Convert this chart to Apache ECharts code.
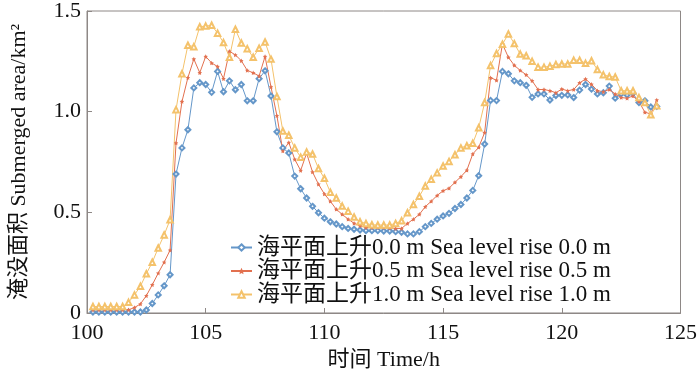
<!DOCTYPE html>
<html>
<head>
<meta charset="utf-8">
<script src="https://cdn.jsdelivr.net/npm/echarts@6/dist/echarts.min.js"></script>
<style>
  html, body { margin: 0; padding: 0; background: #fff; }
  #main { width: 700px; height: 376px; }
</style>
</head>
<body>
<div id="main"></div>
<script>
// 时间 (h), 每 15 分钟一个点
var times = [
  100.25, 100.5, 100.75, 101, 101.25, 101.5, 101.75, 102, 102.25, 102.5, 102.75, 103,
  103.25, 103.5, 103.75, 104, 104.25, 104.5, 104.75, 105, 105.25, 105.5, 105.75, 106,
  106.25, 106.5, 106.75, 107, 107.25, 107.5, 107.75, 108, 108.25, 108.5, 108.75, 109,
  109.25, 109.5, 109.75, 110, 110.25, 110.5, 110.75, 111, 111.25, 111.5, 111.75, 112,
  112.25, 112.5, 112.75, 113, 113.25, 113.5, 113.75, 114, 114.25, 114.5, 114.75, 115,
  115.25, 115.5, 115.75, 116, 116.25, 116.5, 116.75, 117, 117.25, 117.5, 117.75, 118,
  118.25, 118.5, 118.75, 119, 119.25, 119.5, 119.75, 120, 120.25, 120.5, 120.75, 121,
  121.25, 121.5, 121.75, 122, 122.25, 122.5, 122.75, 123, 123.25, 123.5, 123.75, 124
]

// 海平面上升 0.0 m
var rise00 = [
  0.005, 0.005, 0.005, 0.005, 0.005, 0.005, 0.005, 0.005, 0.005, 0.015, 0.047, 0.09,
  0.135, 0.19, 0.69, 0.82, 0.91, 1.118, 1.144, 1.135, 1.096, 1.2, 1.099, 1.153,
  1.109, 1.135, 1.054, 1.054, 1.164, 1.203, 1.078, 0.9, 0.82, 0.795, 0.68, 0.617,
  0.571, 0.53, 0.498, 0.471, 0.453, 0.442, 0.429, 0.42, 0.416, 0.412, 0.409, 0.409,
  0.409, 0.407, 0.407, 0.404, 0.401, 0.393, 0.393, 0.404, 0.429, 0.445, 0.466, 0.482,
  0.495, 0.519, 0.539, 0.571, 0.609, 0.682, 0.839, 1.056, 1.055, 1.2, 1.188, 1.153,
  1.144, 1.131, 1.071, 1.088, 1.088, 1.058, 1.08, 1.081, 1.083, 1.07, 1.107, 1.135,
  1.112, 1.088, 1.094, 1.127, 1.067, 1.088, 1.083, 1.091, 1.045, 1.054, 1.023, 1.026
]

// 海平面上升 0.5 m
var rise05 = [
  0.016, 0.016, 0.016, 0.016, 0.016, 0.016, 0.016, 0.027, 0.045, 0.086, 0.14, 0.198,
  0.252, 0.312, 0.844, 1.05, 1.169, 1.261, 1.193, 1.274, 1.242, 1.224, 1.164, 1.3,
  1.282, 1.253, 1.205, 1.193, 1.177, 1.274, 1.123, 0.98, 0.805, 0.847, 0.763, 0.708,
  0.794, 0.7, 0.64, 0.591, 0.555, 0.515, 0.49, 0.466, 0.446, 0.433, 0.425, 0.425,
  0.425, 0.425, 0.422, 0.42, 0.42, 0.445, 0.466, 0.49, 0.528, 0.555, 0.584, 0.607,
  0.62, 0.649, 0.677, 0.709, 0.79, 0.823, 0.896, 1.169, 1.156, 1.336, 1.27, 1.23,
  1.205, 1.183, 1.153, 1.11, 1.11, 1.104, 1.094, 1.112, 1.104, 1.11, 1.143, 1.162,
  1.136, 1.104, 1.099, 1.11, 1.088, 1.07, 1.067, 1.078, 1.05, 0.997, 0.989, 1.058
]

// 海平面上升 1.0 m
var rise10 = [
  0.032, 0.032, 0.032, 0.032, 0.032, 0.032, 0.053, 0.09, 0.133, 0.195, 0.252, 0.323,
  0.388, 0.463, 1.01, 1.188, 1.33, 1.323, 1.422, 1.425, 1.429, 1.39, 1.343, 1.27,
  1.409, 1.341, 1.313, 1.27, 1.315, 1.346, 1.261, 1.075, 0.904, 0.883, 0.82, 0.774,
  0.8, 0.79, 0.718, 0.669, 0.6, 0.571, 0.531, 0.506, 0.477, 0.453, 0.445, 0.438,
  0.437, 0.437, 0.437, 0.445, 0.458, 0.498, 0.539, 0.58, 0.631, 0.664, 0.696, 0.73,
  0.753, 0.786, 0.82, 0.831, 0.843, 0.92, 1.045, 1.229, 1.289, 1.335, 1.386, 1.338,
  1.286, 1.278, 1.25, 1.221, 1.221, 1.226, 1.234, 1.237, 1.237, 1.256, 1.256, 1.24,
  1.253, 1.209, 1.183, 1.175, 1.172, 1.104, 1.104, 1.104, 1.07, 1.045, 0.985, 1.029
]

var seriesNames = [
  '海平面上升0.0 m Sea level rise 0.0 m',
  '海平面上升0.5 m Sea level rise 0.5 m',
  '海平面上升1.0 m Sea level rise 1.0 m'
]
var yTickLabels = { '0': '0', '0.5': '0.5', '1': '1.0', '1.5': '1.5' }

var font = "'Liberation Serif', 'Noto Sans CJK SC', serif"
var axisColor = '#8e8886'

function pairs(ys) {
  return times.map(function (t, i) { return [t, ys[i]] })
}

var myChart = echarts.init(document.getElementById('main'))
myChart.setOption({
  animation: false,
  color: ['#6597c9', '#e2704f', '#f4c26b'],
  grid: {
    left: 79, right: 17, top: 6, bottom: 62,
    show: true, borderColor: axisColor, borderWidth: 1
  },
  legend: {
    orient: 'vertical',
    left: 230, top: 236,
    padding: 0,
    itemGap: 0.5,
    itemWidth: 21, itemHeight: 8,
    textStyle: { fontFamily: font, fontSize: 23, lineHeight: 23, color: '#111' },
    data: seriesNames
  },
  xAxis: {
    type: 'value',
    min: 100, max: 125, interval: 5,
    name: '时间 Time/h',
    nameLocation: 'middle',
    nameGap: 36,
    nameTextStyle: { fontFamily: font, fontSize: 22, color: '#111' },
    axisLine: { lineStyle: { color: axisColor } },
    axisTick: { inside: true, length: 5, lineStyle: { color: axisColor } },
    axisLabel: { fontFamily: font, fontSize: 22, color: '#111', margin: 9 },
    splitLine: { show: false }
  },
  yAxis: {
    type: 'value',
    min: 0, max: 1.5, interval: 0.5,
    name: '淹没面积 Submerged area/km²',
    nameLocation: 'middle',
    nameRotate: 90,
    nameGap: 57,
    nameTextStyle: { fontFamily: font, fontSize: 22, color: '#111' },
    axisLine: { show: true, lineStyle: { color: axisColor } },
    axisTick: { show: true, inside: true, length: 5, lineStyle: { color: axisColor } },
    axisLabel: {
      fontFamily: font, fontSize: 22, color: '#111', margin: 6,
      formatter: function (v) { return yTickLabels[String(v)] }
    },
    splitLine: { show: false }
  },
  series: [
    {
      name: seriesNames[0], type: 'line', data: pairs(rise00),
      symbol: 'emptyDiamond', symbolSize: 5,
      lineStyle: { width: 1 }, itemStyle: { borderWidth: 1 }
    },
    {
      name: seriesNames[1], type: 'line', data: pairs(rise05),
      symbol: 'path://M0,-10 L2.9,-4 L9.5,-3.1 L4.8,1.5 L5.9,8.1 L0,5 L-5.9,8.1 L-4.8,1.5 L-9.5,-3.1 L-2.9,-4 Z',
      symbolSize: 4.5,
      lineStyle: { width: 1 }
    },
    {
      name: seriesNames[2], type: 'line', data: pairs(rise10),
      symbol: 'emptyTriangle', symbolSize: 5.5,
      lineStyle: { width: 1 }, itemStyle: { borderWidth: 1 }
    }
  ]
})
</script>
</body>
</html>
